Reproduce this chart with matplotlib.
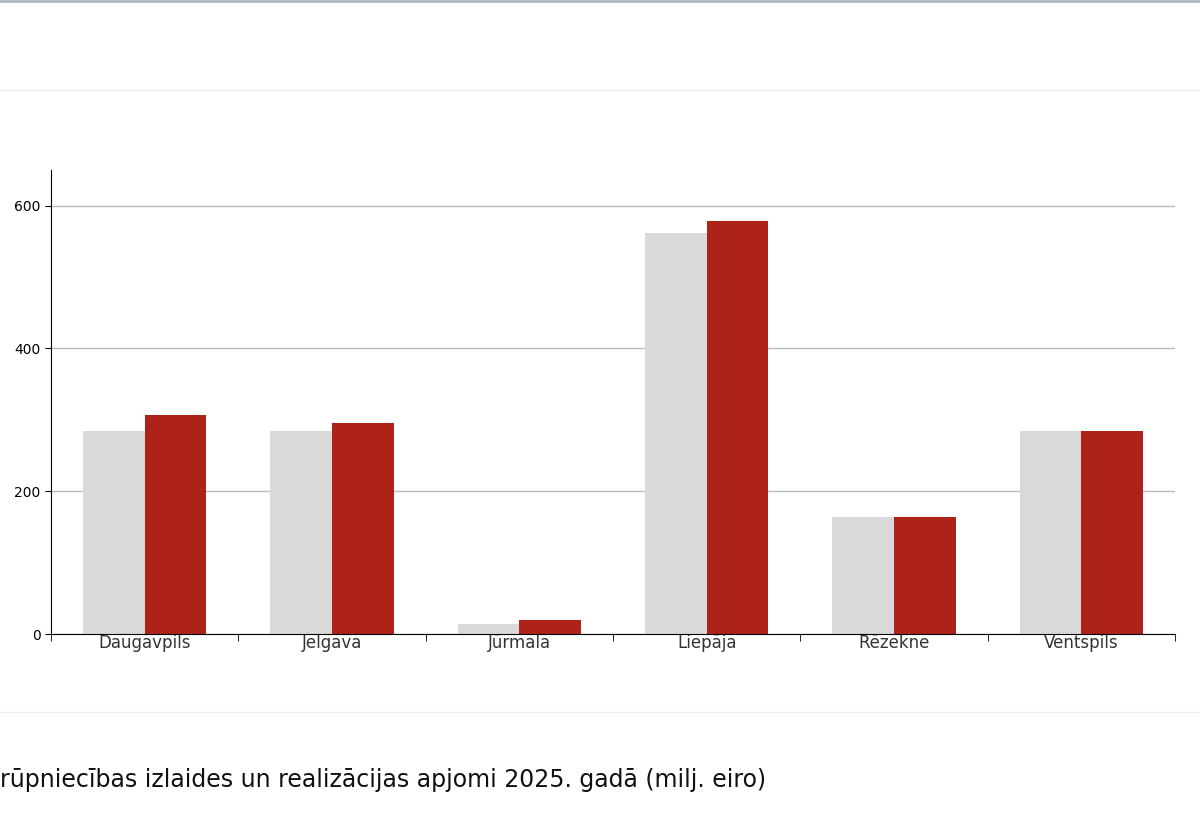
import matplotlib
matplotlib.use("Agg")
import matplotlib.pyplot as plt
import numpy as np

cities = ["Daugavpils", "Jelgava", "Jūrmala", "Liepāja", "Rēzekne", "Ventspils"]
izlaide = [285, 285, 14, 562, 164, 285]
realizacija = [307, 296, 20, 579, 164, 285]
yticks = [0, 200, 400, 600]
caption = "rūpniecības izlaides un realizācijas apjomi 2025. gadā (milj. eiro)"

fig = plt.figure(figsize=(12, 8.27), dpi=100)
ax = fig.add_axes([51/1200, 1-634/827, 1124/1200, 464/827])
x = np.arange(len(cities))
w = 0.33
ax.bar(x - w/2, izlaide, w, color="#d9d9d9")
ax.bar(x + w/2, realizacija, w, color="#ae2319")
ax.set_xlim(-0.5, len(cities) - 0.5)
ax.set_ylim(0, 650)
ax.set_yticks(yticks)
ax.set_yticklabels([str(v) for v in yticks], fontsize=10)
ax.yaxis.grid(True, color="#bbbbbb", linewidth=1)
ax.set_axisbelow(True)
ax.set_xticks(x)
ax.set_xticklabels(cities, fontsize=12, color="#333333")
ax.tick_params(axis="x", length=0, pad=0)
ax.set_xticks(np.arange(-0.5, len(cities)), minor=True)
ax.tick_params(axis="x", which="minor", length=5)
ax.tick_params(axis="y", length=4)
for s in ["top", "right"]:
    ax.spines[s].set_visible(False)

fig.add_artist(plt.Line2D([0, 1], [1-1/827, 1-1/827], color="#b0b8c0", linewidth=2))
fig.add_artist(plt.Line2D([0, 1], [1-90/827, 1-90/827], color="#eeeeee", linewidth=1))
fig.add_artist(plt.Line2D([0, 1], [1-712/827, 1-712/827], color="#eeeeee", linewidth=1))
fig.text(0.0, 1-780/827, caption, fontsize=17, va="center", ha="left", color="#111111")
fig.savefig("out.png", dpi=100)
